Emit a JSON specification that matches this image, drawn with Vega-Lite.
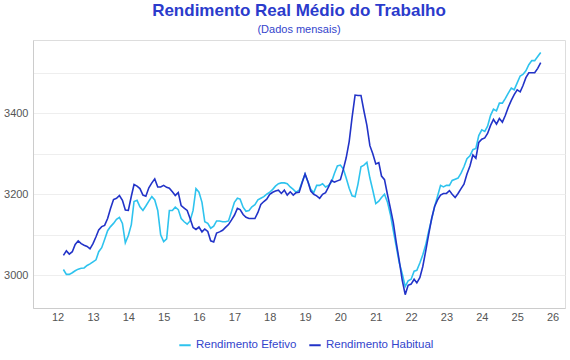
{
"$schema": "https://vega.github.io/schema/vega-lite/v6.json",
"width": 532, "height": 268,
"autosize": {"type": "none"},
"padding": {"left": 33, "top": 40, "right": 5, "bottom": 52},
"background": "white",
"title": {"text": "Rendimento Real Médio do Trabalho", "subtitle": "(Dados mensais)", "anchor": "middle", "font": "Liberation Sans", "fontSize": 17, "fontWeight": "bold", "color": "#2B3BCC", "subtitleFont": "Liberation Sans", "subtitleFontSize": 11, "subtitleColor": "#3344CC", "offset": 4, "subtitlePadding": 4},
"data": {"values": [
{"d":"2012-03-01","Efetivo":3014,"Habitual":3049},
{"d":"2012-04-01","Efetivo":3002,"Habitual":3060},
{"d":"2012-05-01","Efetivo":3002,"Habitual":3052},
{"d":"2012-06-01","Efetivo":3006,"Habitual":3058},
{"d":"2012-07-01","Efetivo":3011,"Habitual":3076},
{"d":"2012-08-01","Efetivo":3015,"Habitual":3085},
{"d":"2012-09-01","Efetivo":3017,"Habitual":3078},
{"d":"2012-10-01","Efetivo":3018,"Habitual":3074},
{"d":"2012-11-01","Efetivo":3024,"Habitual":3071},
{"d":"2012-12-01","Efetivo":3028,"Habitual":3065},
{"d":"2013-01-01","Efetivo":3033,"Habitual":3078},
{"d":"2013-02-01","Efetivo":3038,"Habitual":3095},
{"d":"2013-03-01","Efetivo":3058,"Habitual":3112},
{"d":"2013-04-01","Efetivo":3068,"Habitual":3120},
{"d":"2013-05-01","Efetivo":3088,"Habitual":3123},
{"d":"2013-06-01","Efetivo":3110,"Habitual":3140},
{"d":"2013-07-01","Efetivo":3120,"Habitual":3165},
{"d":"2013-08-01","Efetivo":3128,"Habitual":3187},
{"d":"2013-09-01","Efetivo":3138,"Habitual":3190},
{"d":"2013-10-01","Efetivo":3143,"Habitual":3197},
{"d":"2013-11-01","Efetivo":3128,"Habitual":3185},
{"d":"2013-12-01","Efetivo":3080,"Habitual":3161},
{"d":"2014-01-01","Efetivo":3098,"Habitual":3160},
{"d":"2014-02-01","Efetivo":3125,"Habitual":3195},
{"d":"2014-03-01","Efetivo":3182,"Habitual":3224},
{"d":"2014-04-01","Efetivo":3185,"Habitual":3220},
{"d":"2014-05-01","Efetivo":3169,"Habitual":3214},
{"d":"2014-06-01","Efetivo":3160,"Habitual":3198},
{"d":"2014-07-01","Efetivo":3171,"Habitual":3195},
{"d":"2014-08-01","Efetivo":3183,"Habitual":3216},
{"d":"2014-09-01","Efetivo":3194,"Habitual":3228},
{"d":"2014-10-01","Efetivo":3186,"Habitual":3238},
{"d":"2014-11-01","Efetivo":3160,"Habitual":3218},
{"d":"2014-12-01","Efetivo":3100,"Habitual":3218},
{"d":"2015-01-01","Efetivo":3083,"Habitual":3222},
{"d":"2015-02-01","Efetivo":3090,"Habitual":3217},
{"d":"2015-03-01","Efetivo":3160,"Habitual":3215},
{"d":"2015-04-01","Efetivo":3160,"Habitual":3206},
{"d":"2015-05-01","Efetivo":3168,"Habitual":3197},
{"d":"2015-06-01","Efetivo":3162,"Habitual":3204},
{"d":"2015-07-01","Efetivo":3140,"Habitual":3172},
{"d":"2015-08-01","Efetivo":3132,"Habitual":3166},
{"d":"2015-09-01","Efetivo":3126,"Habitual":3160},
{"d":"2015-10-01","Efetivo":3134,"Habitual":3140},
{"d":"2015-11-01","Efetivo":3160,"Habitual":3118},
{"d":"2015-12-01","Efetivo":3214,"Habitual":3113},
{"d":"2016-01-01","Efetivo":3205,"Habitual":3119},
{"d":"2016-02-01","Efetivo":3180,"Habitual":3107},
{"d":"2016-03-01","Efetivo":3132,"Habitual":3114},
{"d":"2016-04-01","Efetivo":3128,"Habitual":3108},
{"d":"2016-05-01","Efetivo":3116,"Habitual":3085},
{"d":"2016-06-01","Efetivo":3121,"Habitual":3082},
{"d":"2016-07-01","Efetivo":3134,"Habitual":3104},
{"d":"2016-08-01","Efetivo":3134,"Habitual":3107},
{"d":"2016-09-01","Efetivo":3132,"Habitual":3111},
{"d":"2016-10-01","Efetivo":3132,"Habitual":3118},
{"d":"2016-11-01","Efetivo":3134,"Habitual":3125},
{"d":"2016-12-01","Efetivo":3156,"Habitual":3136},
{"d":"2017-01-01","Efetivo":3180,"Habitual":3148},
{"d":"2017-02-01","Efetivo":3190,"Habitual":3165},
{"d":"2017-03-01","Efetivo":3188,"Habitual":3162},
{"d":"2017-04-01","Efetivo":3168,"Habitual":3150},
{"d":"2017-05-01","Efetivo":3158,"Habitual":3143},
{"d":"2017-06-01","Efetivo":3160,"Habitual":3140},
{"d":"2017-07-01","Efetivo":3169,"Habitual":3140},
{"d":"2017-08-01","Efetivo":3174,"Habitual":3140},
{"d":"2017-09-01","Efetivo":3186,"Habitual":3155},
{"d":"2017-10-01","Efetivo":3190,"Habitual":3175},
{"d":"2017-11-01","Efetivo":3194,"Habitual":3182},
{"d":"2017-12-01","Efetivo":3200,"Habitual":3188},
{"d":"2018-01-01","Efetivo":3205,"Habitual":3200},
{"d":"2018-02-01","Efetivo":3212,"Habitual":3205},
{"d":"2018-03-01","Efetivo":3220,"Habitual":3208},
{"d":"2018-04-01","Efetivo":3226,"Habitual":3210},
{"d":"2018-05-01","Efetivo":3228,"Habitual":3202},
{"d":"2018-06-01","Efetivo":3228,"Habitual":3210},
{"d":"2018-07-01","Efetivo":3226,"Habitual":3198},
{"d":"2018-08-01","Efetivo":3218,"Habitual":3206},
{"d":"2018-09-01","Efetivo":3212,"Habitual":3198},
{"d":"2018-10-01","Efetivo":3205,"Habitual":3204},
{"d":"2018-11-01","Efetivo":3210,"Habitual":3205},
{"d":"2018-12-01","Efetivo":3230,"Habitual":3228},
{"d":"2019-01-01","Efetivo":3250,"Habitual":3250},
{"d":"2019-02-01","Efetivo":3230,"Habitual":3230},
{"d":"2019-03-01","Efetivo":3212,"Habitual":3208},
{"d":"2019-04-01","Efetivo":3204,"Habitual":3200},
{"d":"2019-05-01","Efetivo":3222,"Habitual":3196},
{"d":"2019-06-01","Efetivo":3222,"Habitual":3190},
{"d":"2019-07-01","Efetivo":3226,"Habitual":3200},
{"d":"2019-08-01","Efetivo":3218,"Habitual":3204},
{"d":"2019-09-01","Efetivo":3222,"Habitual":3218},
{"d":"2019-10-01","Efetivo":3230,"Habitual":3234},
{"d":"2019-11-01","Efetivo":3252,"Habitual":3230},
{"d":"2019-12-01","Efetivo":3270,"Habitual":3233},
{"d":"2020-01-01","Efetivo":3272,"Habitual":3236},
{"d":"2020-02-01","Efetivo":3262,"Habitual":3262},
{"d":"2020-03-01","Efetivo":3240,"Habitual":3290},
{"d":"2020-04-01","Efetivo":3215,"Habitual":3330},
{"d":"2020-05-01","Efetivo":3196,"Habitual":3390},
{"d":"2020-06-01","Efetivo":3194,"Habitual":3445},
{"d":"2020-07-01","Efetivo":3225,"Habitual":3444},
{"d":"2020-08-01","Efetivo":3268,"Habitual":3444},
{"d":"2020-09-01","Efetivo":3272,"Habitual":3405},
{"d":"2020-10-01","Efetivo":3279,"Habitual":3370},
{"d":"2020-11-01","Efetivo":3240,"Habitual":3320},
{"d":"2020-12-01","Efetivo":3210,"Habitual":3300},
{"d":"2021-01-01","Efetivo":3177,"Habitual":3275},
{"d":"2021-02-01","Efetivo":3183,"Habitual":3278},
{"d":"2021-03-01","Efetivo":3192,"Habitual":3245},
{"d":"2021-04-01","Efetivo":3200,"Habitual":3236},
{"d":"2021-05-01","Efetivo":3181,"Habitual":3200},
{"d":"2021-06-01","Efetivo":3150,"Habitual":3165},
{"d":"2021-07-01","Efetivo":3110,"Habitual":3130},
{"d":"2021-08-01","Efetivo":3070,"Habitual":3080},
{"d":"2021-09-01","Efetivo":3030,"Habitual":3035},
{"d":"2021-10-01","Efetivo":3004,"Habitual":2988},
{"d":"2021-11-01","Efetivo":2972,"Habitual":2952},
{"d":"2021-12-01","Efetivo":2986,"Habitual":2975},
{"d":"2022-01-01","Efetivo":2990,"Habitual":2978},
{"d":"2022-02-01","Efetivo":3010,"Habitual":2990},
{"d":"2022-03-01","Efetivo":3012,"Habitual":2981},
{"d":"2022-04-01","Efetivo":3030,"Habitual":2994},
{"d":"2022-05-01","Efetivo":3050,"Habitual":3021},
{"d":"2022-06-01","Efetivo":3075,"Habitual":3060},
{"d":"2022-07-01","Efetivo":3108,"Habitual":3100},
{"d":"2022-08-01","Efetivo":3138,"Habitual":3140},
{"d":"2022-09-01","Efetivo":3170,"Habitual":3170},
{"d":"2022-10-01","Efetivo":3195,"Habitual":3186},
{"d":"2022-11-01","Efetivo":3222,"Habitual":3198},
{"d":"2022-12-01","Efetivo":3218,"Habitual":3202},
{"d":"2023-01-01","Efetivo":3222,"Habitual":3202},
{"d":"2023-02-01","Efetivo":3222,"Habitual":3209},
{"d":"2023-03-01","Efetivo":3234,"Habitual":3200},
{"d":"2023-04-01","Efetivo":3237,"Habitual":3192},
{"d":"2023-05-01","Efetivo":3240,"Habitual":3202},
{"d":"2023-06-01","Efetivo":3252,"Habitual":3214},
{"d":"2023-07-01","Efetivo":3268,"Habitual":3225},
{"d":"2023-08-01","Efetivo":3288,"Habitual":3250},
{"d":"2023-09-01","Efetivo":3295,"Habitual":3270},
{"d":"2023-10-01","Efetivo":3310,"Habitual":3297},
{"d":"2023-11-01","Efetivo":3313,"Habitual":3289},
{"d":"2023-12-01","Efetivo":3345,"Habitual":3328},
{"d":"2024-01-01","Efetivo":3359,"Habitual":3336},
{"d":"2024-02-01","Efetivo":3355,"Habitual":3339},
{"d":"2024-03-01","Efetivo":3368,"Habitual":3350},
{"d":"2024-04-01","Efetivo":3395,"Habitual":3370},
{"d":"2024-05-01","Efetivo":3410,"Habitual":3385},
{"d":"2024-06-01","Efetivo":3406,"Habitual":3373},
{"d":"2024-07-01","Efetivo":3425,"Habitual":3387},
{"d":"2024-08-01","Efetivo":3425,"Habitual":3378},
{"d":"2024-09-01","Efetivo":3437,"Habitual":3395},
{"d":"2024-10-01","Efetivo":3450,"Habitual":3415},
{"d":"2024-11-01","Efetivo":3462,"Habitual":3432},
{"d":"2024-12-01","Efetivo":3458,"Habitual":3446},
{"d":"2025-01-01","Efetivo":3475,"Habitual":3458},
{"d":"2025-02-01","Efetivo":3492,"Habitual":3453},
{"d":"2025-03-01","Efetivo":3496,"Habitual":3468},
{"d":"2025-04-01","Efetivo":3505,"Habitual":3488},
{"d":"2025-05-01","Efetivo":3520,"Habitual":3500},
{"d":"2025-06-01","Efetivo":3530,"Habitual":3500},
{"d":"2025-07-01","Efetivo":3530,"Habitual":3500},
{"d":"2025-08-01","Efetivo":3540,"Habitual":3511},
{"d":"2025-09-01","Efetivo":3550,"Habitual":3525}
]},
"transform": [{"fold": ["Efetivo", "Habitual"], "as": ["serie", "valor"]}],
"mark": {"type": "line", "strokeWidth": 1.6},
"encoding": {
"x": {"field": "d", "type": "temporal",
  "scale": {"type": "utc", "domain": [{"year": 2011, "month": 4, "date": 22, "utc": true}, {"year": 2026, "month": 5, "date": 10, "utc": true}]},
  "axis": {"format": "%y", "tickCount": {"interval": "year", "step": 1}, "grid": false, "ticks": false, "domainColor": "#cccccc", "labelColor": "#555555", "labelFontSize": 11, "labelFont": "Liberation Sans", "labelPadding": 3, "title": null}},
"y": {"field": "valor", "type": "quantitative",
  "scale": {"domain": [2919, 3581], "nice": false, "zero": false},
  "axis": {"values": [3000, 3100, 3200, 3300, 3400, 3500], "format": "d", "labelExpr": "datum.value % 200 == 0 ? datum.label : ''", "grid": true, "gridColor": "#eeeeee", "ticks": false, "domainColor": "#cccccc", "labelColor": "#555555", "labelFontSize": 11, "labelFont": "Liberation Sans", "labelPadding": 5, "title": null}},
"color": {"field": "serie", "type": "nominal",
  "scale": {"domain": ["Efetivo", "Habitual"], "range": ["#2EC3EE", "#2233C8"]},
  "legend": {"orient": "none", "legendX": 145, "legendY": 298, "direction": "horizontal", "title": null, "symbolType": "stroke", "symbolStrokeWidth": 2, "symbolSize": 130, "labelExpr": "'Rendimento ' + datum.label", "labelColor": "#3344CC", "labelFontSize": 11.5, "labelFont": "Liberation Sans", "columnPadding": 8}}
}
}
